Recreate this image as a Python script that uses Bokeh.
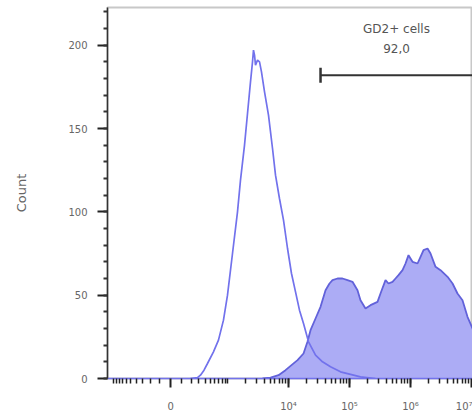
import numpy as np
from bokeh.plotting import figure
from bokeh.models import FixedTicker, SingleIntervalTicker, Range1d
from bokeh.core.properties import value
from bokeh.embed import file_html
from bokeh.resources import INLINE

# ---- data (x in logicle display units: 1 unit = 1 decade) ----
unstained_x = [2.393, 2.508, 2.557, 2.615, 2.672, 2.770, 2.852, 2.934, 3.000, 3.082, 3.164,
               3.213, 3.279, 3.328, 3.377, 3.410, 3.426, 3.443, 3.459, 3.492, 3.525,
               3.557, 3.607, 3.672, 3.738, 3.787, 3.852, 3.918, 3.984, 4.049, 4.115,
               4.180, 4.246, 4.328, 4.443, 4.557, 4.689, 4.852, 5.016, 5.180, 5.426]
unstained_count = [0, 0.5, 2, 5, 9, 16, 23, 35, 50, 75, 100,
                   119, 140, 159, 178, 190, 197, 194, 188, 191, 190,
                   184, 172, 158, 138, 122, 108, 95, 78, 63, 52,
                   41, 33, 22, 14, 10, 7, 4, 2.5, 1, 0]

gd2_x = [3.574, 3.705, 3.836, 3.951, 4.049, 4.148, 4.246, 4.311, 4.361, 4.443,
         4.525, 4.607, 4.672, 4.721, 4.803, 4.885, 4.967, 5.049, 5.131, 5.180,
         5.262, 5.344, 5.459, 5.508, 5.590, 5.639, 5.705, 5.754, 5.803, 5.869,
         5.918, 5.967, 6.033, 6.115, 6.164, 6.213, 6.279, 6.328, 6.410, 6.492,
         6.607, 6.689, 6.770, 6.852, 6.934, 7.016, 7.148, 7.311, 7.475, 7.639, 7.803]
gd2_count = [0, 0.5, 2, 5, 8, 11, 15, 22, 29, 36,
             43, 53, 57, 59, 60, 60, 59, 58, 53, 47,
             42, 44, 46, 51, 59, 57, 58, 60, 62, 65,
             69, 74, 70, 69, 73, 77, 78, 75, 67, 65,
             61, 57, 51, 47, 37, 30, 20, 10, 4, 1, 0]

gate_name = "GD2+ cells"
gate_pct = "92,0"
gate_start = 4.525
gate_end = 7.6
gate_y = 182
label_x = 5.77
label_y1 = 210
label_y2 = 198

major_raw = [0, 1e4, 1e5, 1e6, 1e7]
major_labels = ["0", "10\u2074", "10\u2075", "10\u2076", "10\u2077"]
y_ticks_step = 50

# logicle-like (arcsinh) transform of raw fluorescence into display units
W = 117.0
def to_display(v):
    return np.log10(W) + np.arcsinh(np.asarray(v, dtype=float) / (2 * W)) / np.log(10)

major_pos = [float(t) for t in to_display(major_raw)]
minor_raw = []
for k in (2, 3):
    for m in range(1, 10):
        minor_raw += [m * 10 ** k, -m * 10 ** k]
for k in (4, 5, 6):
    for m in range(1, 10):
        minor_raw.append(m * 10 ** k)
minor_pos = [float(t) for t in to_display(minor_raw)]

FONT = "DejaVu Sans"

p = figure(width=472, height=416, output_backend="svg", toolbar_location=None,
           x_range=Range1d(1.033, 7.016), y_range=Range1d(0, 222.6),
           min_border_left=107, min_border_right=0, min_border_top=7,
           min_border_bottom=38)
p.grid.visible = False
p.outline_line_color = "#c8c8c8"
p.outline_line_width = 2
p.background_fill_color = "white"
p.border_fill_color = "white"

# filled GD2 histogram
p.varea(x=gd2_x, y1=0, y2=gd2_count, fill_color="#acacf5", fill_alpha=1.0)
p.line(gd2_x, gd2_count, line_color="#6262da", line_width=1.8)
# unstained outline histogram
p.line(unstained_x, unstained_count, line_color="#7272ec", line_width=1.7)

# gate
p.segment(x0=[gate_start], y0=[gate_y], x1=[gate_end], y1=[gate_y],
          line_color="#333333", line_width=2)
p.scatter(x=[gate_start], y=[gate_y], marker="dash", angle=np.pi / 2, size=15,
          line_color="#333333", line_width=2.5)
p.text(x=[label_x, label_x], y=[label_y1, label_y2], text=[gate_name, gate_pct],
       text_font=value(FONT), text_font_size="12px", text_color="#555555",
       text_align="center", text_baseline="middle")

# x axis
xa = p.xaxis[0]
xa.ticker = FixedTicker(ticks=major_pos, minor_ticks=minor_pos)
xa.major_label_overrides = {pos: lab for pos, lab in zip(major_pos, major_labels)}
xa.axis_line_color = "#7272ec"
xa.axis_line_width = 1.5
xa.major_tick_line_color = "#222222"
xa.major_tick_line_width = 2
xa.major_tick_in = 0
xa.major_tick_out = 9
xa.minor_tick_line_color = "#222222"
xa.minor_tick_line_width = 1.5
xa.minor_tick_in = 0
xa.minor_tick_out = 5
xa.major_label_standoff = 13
xa.major_label_text_font = FONT
xa.major_label_text_font_size = "10px"
xa.major_label_text_color = "#666666"

# y axis
ya = p.yaxis[0]
ya.ticker = SingleIntervalTicker(interval=y_ticks_step, num_minor_ticks=5)
ya.axis_label = "Count"
ya.axis_label_text_font = FONT
ya.axis_label_text_font_size = "13px"
ya.axis_label_text_font_style = "normal"
ya.axis_label_text_color = "#666666"
ya.axis_label_standoff = 36
ya.axis_line_color = "#333333"
ya.axis_line_width = 1.5
ya.major_tick_line_color = "#222222"
ya.major_tick_line_width = 2
ya.major_tick_in = 0
ya.major_tick_out = 10
ya.minor_tick_line_color = "#333333"
ya.minor_tick_line_width = 2
ya.minor_tick_in = 0
ya.minor_tick_out = 4
ya.major_label_standoff = 10
ya.major_label_text_font = FONT
ya.major_label_text_font_size = "10px"
ya.major_label_text_color = "#666666"

open("out.html", "w").write(file_html(p, INLINE))
